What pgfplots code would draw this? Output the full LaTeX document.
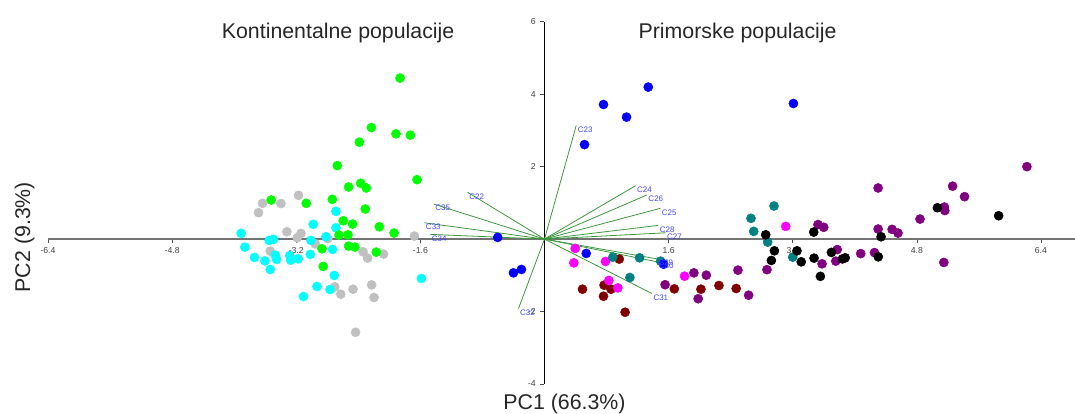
\documentclass[border=0pt]{standalone}
\usepackage{fontspec}
\setmainfont{Liberation Sans}
\usepackage{pgfplots}
\usepackage{pgfplotstable}
\pgfplotsset{compat=1.18}
\definecolor{vgreen}{RGB}{60,150,60}
\definecolor{lblue}{RGB}{70,70,255}
\definecolor{cgray}{RGB}{192,192,192}
\definecolor{cgreen}{RGB}{0,255,0}
\definecolor{ccyan}{RGB}{0,255,255}
\definecolor{cblue}{RGB}{0,0,255}
\definecolor{cmag}{RGB}{255,0,255}
\definecolor{cteal}{RGB}{0,128,128}
\definecolor{cmaroon}{RGB}{128,0,0}
\definecolor{cpurple}{RGB}{128,0,128}

\pgfplotstableread{
x y
-1.862 4.445
-2.232 3.079
-1.914 2.905
-1.729 2.869
-2.387 2.675
-2.671 2.028
-1.643 1.640
-2.525 1.438
-2.370 1.541
-2.297 1.411
-3.523 1.079
-3.071 0.988
-2.735 1.098
-2.310 0.830
-2.594 0.506
-2.474 0.415
-2.129 0.340
-1.939 0.166
-2.649 0.111
-2.533 0.119
-2.525 -0.194
-2.443 -0.221
-2.868 -0.268
-2.168 -0.360
-2.852 -0.755
}\greendata

\pgfplotstableread{
x y
-3.910 0.158
-3.862 -0.221
-3.738 -0.506
-3.604 -0.600
-3.535 -0.838
-3.548 -0.036
-3.493 -0.008
-3.471 -0.443
-3.454 -0.562
-3.284 -0.456
-3.271 -0.581
-3.174 -0.545
-3.019 -0.423
-3.010 -0.036
-2.981 0.407
-2.817 0.064
-2.732 -0.285
-2.688 0.766
-2.688 0.313
-2.710 -1.004
-2.933 -1.308
-2.765 -1.391
-3.106 -1.585
-1.587 -1.087
}\cyandata

\pgfplotstableread{
x y
-3.170 1.209
-3.635 0.988
-3.397 0.982
-3.686 0.728
-3.320 0.202
-3.139 0.158
-3.187 0.036
-2.955 -0.130
-2.794 0.014
-3.535 -0.332
-2.339 -0.351
-2.280 -0.526
-2.074 -0.415
-1.677 0.083
-2.703 -1.320
-2.626 -1.521
-2.468 -1.383
-2.228 -1.264
-2.197 -1.613
-2.435 -2.573
}\graydata

\pgfplotstableread{
x y
0.516 2.609
0.761 3.715
1.058 3.367
1.338 4.196
3.209 3.743
-0.603 0.047
-0.400 -0.932
-0.297 -0.838
0.538 -0.396
1.535 -0.692
}\bluedata

\pgfplotstableread{
x y
0.396 -0.257
0.378 -0.656
0.787 -0.617
0.830 -1.142
0.946 -1.347
1.806 -1.024
3.110 0.351
}\magdata

\pgfplotstableread{
x y
0.881 -0.498
1.226 -0.517
1.101 -1.059
1.497 -0.609
2.959 0.913
2.662 0.573
2.697 0.213
2.877 -0.083
3.200 -0.498
}\tealdata

\pgfplotstableread{
x y
0.964 -0.553
0.490 -1.383
0.768 -1.272
0.858 -1.383
0.761 -1.577
1.039 -2.019
1.674 -1.375
2.017 -1.383
2.249 -1.281
2.471 -1.364
}\maroondata

\pgfplotstableread{
x y
1.555 -1.259
1.926 -0.932
2.086 -0.996
1.981 -1.646
2.494 -0.858
2.632 -1.549
2.868 -0.844
3.526 0.401
3.600 0.326
3.578 -0.683
3.755 -0.609
3.774 -0.290
4.077 -0.401
4.254 -0.373
4.301 1.411
4.301 0.277
4.481 0.268
4.557 0.166
4.841 0.553
5.155 0.885
5.161 0.788
5.261 1.461
5.415 1.170
6.219 2.000
5.148 -0.645
}\purpledata

\pgfplotstableread{
x y
2.852 0.119
2.964 -0.324
2.925 -0.589
3.255 -0.324
3.310 -0.628
3.471 0.194
3.475 -0.526
3.557 -1.029
3.699 -0.368
3.841 -0.548
3.877 -0.517
4.303 -0.490
4.339 0.064
5.065 0.866
5.855 0.645
}\blackdata

\pgfplotstableread{
x y u v label
0 0 -0.990 1.292 C22
0 0 -1.428 0.968 C35
0 0 -1.548 0.451 C33
0 0 -1.471 0.130 C34
0 0 0.409 3.134 C23
0 0 1.174 1.474 C24
0 0 1.320 1.217 C26
0 0 1.493 0.849 C25
0 0 1.467 0.379 C28
0 0 1.561 0.174 C27
0 0 1.449 -0.545 C29
0 0 1.454 -0.628 C30
0 0 1.385 -1.502 C31
0 0 -0.335 -1.917 C32
}\loadings

\begin{document}
\begin{tikzpicture}
\path[use as bounding box] (0,0) rectangle (806.25pt,310.5pt);
\begin{axis}[
  at={(36pt,22.5pt)}, anchor=south west,
  scale only axis, width=770.25pt, height=271.7pt,
  xmin=-6.4, xmax=6.839, ymin=-4, ymax=6,
  axis lines=middle,
  axis line style={-},
  x axis line style={draw=black!55, line width=1pt},
  y axis line style={draw=black, line width=0.7pt},
  xtick={-6.4,-4.8,-3.2,-1.6,1.6,3.2,4.8,6.4},
  ytick={-4,-2,2,4,6},
  tick align=outside,
  major tick length=3pt,
  tick style={black!70, line width=0.5pt},
  ticklabel style={font=\fontsize{6.5}{7}\selectfont, text=black!75},
  /pgf/number format/assume math mode=true,
  clip=false,
  mark size=3.4pt,
]
\addplot[only marks, mark=*, color=cgray] table {\graydata};
\addplot[only marks, mark=*, color=ccyan] table {\cyandata};
\addplot[only marks, mark=*, color=cgreen] table {\greendata};
\addplot[only marks, mark=*, color=cmaroon] table {\maroondata};
\addplot[only marks, mark=*, color=cmag] table {\magdata};
\addplot[only marks, mark=*, color=cteal] table {\tealdata};
\addplot[only marks, mark=*, color=cpurple] table {\purpledata};
\addplot[only marks, mark=*, color=black] table {\blackdata};
\addplot[only marks, mark=*, color=cblue] table {\bluedata};

\addplot[quiver={u=\thisrow{u}, v=\thisrow{v}}, draw=vgreen, line width=0.6pt, -] table {\loadings};
\addplot[draw=none, mark=none, nodes near coords, point meta=explicit symbolic,
  nodes near coords style={anchor=west, inner sep=0pt, xshift=1pt, yshift=-3pt,
    font=\fontsize{6}{6}\selectfont, text=lblue}]
  table[x expr=\thisrow{u}, y expr=\thisrow{v}, meta=label] {\loadings};

\node[font=\fontsize{16}{18}\selectfont, text=black!85] at (axis cs:-2.66,5.70) {Kontinentalne populacije};
\node[font=\fontsize{16}{18}\selectfont, text=black!85] at (axis cs:2.49,5.70) {Primorske populacije};
\node[font=\fontsize{16}{18}\selectfont, text=black!85] at (axis cs:0.258,-4.56) {PC1 (66.3\%)};
\node[font=\fontsize{16}{18}\selectfont, text=black!85, rotate=90] at (axis cs:-6.70,0.055) {PC2 (9.3\%)};
\end{axis}
\end{tikzpicture}
\end{document}
